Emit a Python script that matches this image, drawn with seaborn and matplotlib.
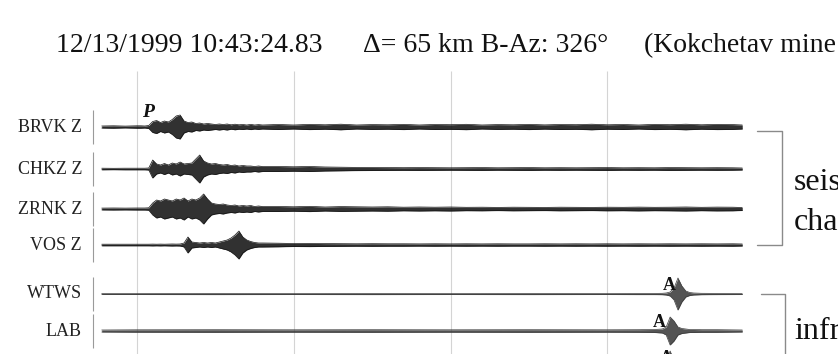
import numpy as np
import pandas as pd
import matplotlib
matplotlib.use("Agg")
import matplotlib.pyplot as plt
import seaborn as sns

# ---- sample times (s) of the vertical seismic channels ----
seis_time = [-4.5, -3.0, -1.5, 0.0,
             0.5, 1.0, 1.5, 2.0, 2.5, 3.0, 3.5, 4.0, 4.5, 5.0, 5.5, 6.0,
             6.5, 7.0, 7.5, 8.0, 8.5, 9.0, 9.5, 10.0, 10.5, 11.0, 11.5, 12.0,
             12.5, 13.0, 13.5, 14.0, 14.5, 15.0, 15.5, 16.0,
             18, 20, 22, 24, 26, 28, 30, 32, 34, 36, 38, 40, 42, 44, 46,
             48, 50, 52, 54, 56, 58, 60, 62, 64, 66, 68, 70, 72, 74, 76, 77.2]

# envelope half-amplitudes of each seismic trace
brvk_amp = [1.0, 1.2, 0.9, 1.2,
            1.2, 1.0, 1.5, 5.5, 6.5, 4.5, 6.0, 5.0, 7.5, 11.0, 12.0, 6.0,
            4.5, 5.0, 3.5, 4.0, 3.0, 3.5, 3.0, 2.5, 3.0, 2.5, 3.0, 2.2,
            2.8, 2.2, 2.5, 2.0, 2.6, 2.0, 2.4, 2.0,
            2.5, 2.0, 2.6, 2.2, 2.8, 2.0, 2.4, 2.2, 2.6, 2.0, 2.5, 2.3, 2.7, 2.0, 2.4,
            2.2, 2.6, 2.1, 2.5, 2.3, 2.8, 2.2, 2.5, 2.0, 2.6, 2.3, 2.8, 2.2, 2.6, 2.4, 2.0]
chkz_amp = [0.8, 0.7, 0.8, 0.8,
            0.8, 0.8, 1.0, 9.0, 5.0, 4.0, 5.5, 4.0, 6.0, 5.0, 7.0, 5.0,
            5.5, 6.0, 10.0, 14.0, 8.0, 6.0, 5.0, 5.5, 4.5, 4.0, 4.5, 3.5,
            4.0, 3.0, 3.5, 3.0, 3.0, 2.5, 3.0, 2.5,
            2.5, 2.2, 2.5, 2.0, 1.8, 1.6, 1.5, 1.4, 1.3, 1.4, 1.3, 1.2, 1.3, 1.4, 1.2,
            1.3, 1.4, 1.2, 1.3, 1.2, 1.3, 1.4, 1.2, 1.3, 1.2, 1.4, 1.3, 1.2, 1.3, 1.2, 1.0]
zrnk_amp = [0.9, 1.0, 0.9, 1.0,
            1.0, 1.0, 1.2, 6.0, 9.0, 8.0, 10.0, 9.0, 8.0, 10.0, 9.0, 11.0,
            8.0, 10.0, 9.0, 11.0, 15.0, 10.0, 6.0, 5.0, 4.5, 5.0, 4.0, 3.5,
            4.0, 3.0, 3.5, 3.0, 3.5, 2.5, 3.0, 2.5,
            2.5, 2.2, 2.6, 2.0, 2.4, 2.2, 2.0, 2.2, 1.8, 2.0, 1.8, 2.0, 1.7, 1.8, 1.6,
            1.8, 1.7, 1.6, 1.8, 1.7, 1.6, 1.8, 1.7, 1.9, 1.7, 1.8, 2.0, 1.7, 1.9, 1.8, 1.5]
vos_amp = [0.8, 0.8, 0.8, 0.8,
           0.8, 0.8, 0.8, 0.9, 0.8, 0.9, 0.8, 0.9, 1.0, 0.9, 1.0, 2.0,
           8.0, 3.0, 2.5, 2.0, 2.5, 2.0, 2.5, 2.0, 3.0, 4.0, 5.0, 7.0,
           10.0, 14.0, 8.0, 5.0, 3.5, 2.5, 2.0, 2.0,
           1.8, 1.5, 1.6, 1.4, 1.3, 1.2, 1.3, 1.2, 1.2, 1.1, 1.2, 1.1, 1.2, 1.1, 1.2,
           1.1, 1.1, 1.2, 1.1, 1.2, 1.1, 1.2, 1.1, 1.2, 1.1, 1.2, 1.1, 1.2, 1.1, 1.2, 1.0]

# ---- infrasound channels ----
infra_time = [-4.5, 0, 10, 20, 30, 40, 50, 60, 64, 66, 67, 67.5, 68, 68.5,
              69, 69.5, 70, 70.5, 71, 72, 74, 77.2]
wtws_amp = [0.5, 0.5, 0.6, 0.5, 0.6, 0.5, 0.6, 0.5, 0.6, 0.6, 0.7, 1.0, 2.0, 6.0,
            16.0, 8.0, 3.0, 1.5, 1.0, 0.7, 0.6, 0.5]
lab_amp = [1.0, 1.2, 1.3, 1.2, 1.3, 1.2, 1.3, 1.2, 1.3, 1.5, 2.0, 4.0, 14.0, 10.0,
           4.0, 2.5, 2.0, 1.5, 1.5, 1.3, 1.3, 1.0]
infra3_amp = [1.0, 1.0, 1.0, 1.0, 1.0, 1.0, 1.0, 1.0, 1.0, 1.5, 4.0, 10.0, 22.0, 12.0,
              5.0, 2.5, 1.5, 1.2, 1.0, 1.0, 1.0, 1.0]

seis_names = ["BRVK Z", "CHKZ Z", "ZRNK Z", "VOS Z"]
infra_names = ["WTWS", "LAB", ""]
grid_times = [0, 20, 40, 60]

title_parts = ["12/13/1999 10:43:24.83", "\u0394= 65 km B-Az: 326\u00b0",
               "(Kokchetav mine explosion)"]

# ---- page layout (pixel grid of an 838 x 354 canvas) ----
PX_PER_S = 7.84
X_ORIGIN = 137.0


def px(x):
    """horizontal pixel position -> time axis value"""
    return (x - X_ORIGIN) / PX_PER_S


seis_rows = [127, 169, 209, 245]
infra_rows = [294, 331, 373]

frames = []
for name, row, amp in zip(seis_names, seis_rows, [brvk_amp, chkz_amp, zrnk_amp, vos_amp]):
    a = np.asarray(amp)
    frames.append(pd.DataFrame({"time": seis_time, "channel": name, "kind": "seismic",
                                "upper": row - a, "lower": row + a}))
for i, (name, row, amp) in enumerate(zip(infra_names, infra_rows, [wtws_amp, lab_amp, infra3_amp])):
    a = np.asarray(amp)
    frames.append(pd.DataFrame({"time": infra_time, "channel": name or f"infra{i}",
                                "kind": "infrasound", "upper": row - a, "lower": row + a}))
traces = pd.concat(frames, ignore_index=True)

sns.set_theme(style="white")
plt.rcParams["font.family"] = ["Liberation Serif", "DejaVu Serif"]

fig = plt.figure(figsize=(8.38, 3.54), dpi=100)
ax = fig.add_axes([0, 0, 1, 1])
ax.set_xlim(px(0), px(838))
ax.set_ylim(354, 0)
ax.axis("off")

# time grid
ax.vlines(grid_times, 71, 360, color="#d4d4d4", lw=0.8, zorder=0)

palette = {"seismic": "#141414", "infrasound": "#3c3c3c"}
for ch, d in traces.groupby("channel", sort=False):
    col = palette[d["kind"].iloc[0]]
    ax.fill_between(d["time"], d["upper"], d["lower"], color=col, lw=0, alpha=0.88, zorder=2)
    sns.lineplot(data=d, x="time", y="upper", ax=ax, color=col, lw=0.5,
                 estimator=None, legend=False, zorder=3)
    sns.lineplot(data=d, x="time", y="lower", ax=ax, color=col, lw=0.5,
                 estimator=None, legend=False, zorder=3)
ax.set_xlim(px(0), px(838))
ax.set_ylim(354, 0)

# channel names and small separators
for name, row in zip(seis_names + infra_names, seis_rows + infra_rows):
    if name:
        ax.text(px(82), row, name, ha="right", va="center", fontsize=13, color="#222222")
    ax.vlines(px(93), row - 17, row + 17, color="#9a9a9a", lw=0.8)

# phase picks
ax.text(px(142), 117, "P", fontsize=14, fontweight="bold", fontstyle="italic",
        color="#111111", va="baseline")
for x, y in [(663, 290), (653, 327), (660, 363)]:
    ax.text(px(x), y, "A", fontsize=13, fontweight="bold", color="#111111", va="baseline")

# group brackets
bk = "#8a8a8a"
ax.plot([px(757), px(782), px(782), px(757)], [131, 131, 245, 245], color=bk, lw=1.0)
ax.plot([px(761), px(785), px(785)], [294, 294, 420], color=bk, lw=1.0)
ax.text(px(794), 190, "seismic", fontsize=23, color="#111111", va="baseline")
ax.text(px(794), 230, "channels", fontsize=23, color="#111111", va="baseline")
ax.text(px(794), 339, "infrasound", fontsize=23, color="#111111", va="baseline")
ax.text(px(794), 379, "channels", fontsize=23, color="#111111", va="baseline")

# event header
for x, part in zip([56, 363, 644], title_parts):
    ax.text(px(x), 52, part, fontsize=20, color="#111111", va="baseline")

fig.savefig("out.png", dpi=100, facecolor="white")
